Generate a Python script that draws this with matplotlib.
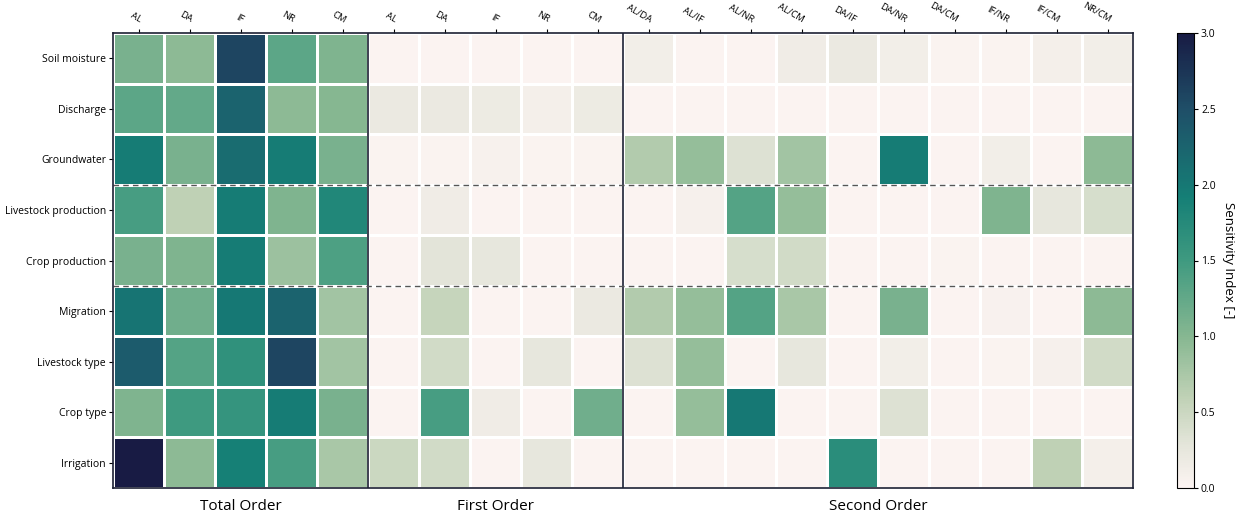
import numpy as np
import matplotlib
matplotlib.use("Agg")
import matplotlib.pyplot as plt
from matplotlib.colors import LinearSegmentedColormap

plt.rcParams['font.family'] = ['Open Sans', 'DejaVu Sans']

rows = ["Soil moisture", "Discharge", "Groundwater", "Livestock production",
        "Crop production", "Migration", "Livestock type", "Crop type", "Irrigation"]
first_labels = ["AL", "DA", "IF", "NR", "CM"]
second_labels = ["AL/DA", "AL/IF", "AL/NR", "AL/CM", "DA/IF",
                 "DA/NR", "DA/CM", "IF/NR", "IF/CM", "NR/CM"]
group_names = ["Total Order", "First Order", "Second Order"]

total_order = [
    [1.10, 0.95, 2.60, 1.30, 1.05],
    [1.30, 1.25, 2.25, 0.95, 1.00],
    [1.95, 1.10, 2.15, 1.95, 1.10],
    [1.45, 0.60, 1.95, 1.05, 1.80],
    [1.10, 1.05, 1.95, 0.85, 1.40],
    [2.05, 1.15, 2.00, 2.25, 0.80],
    [2.35, 1.35, 1.65, 2.60, 0.80],
    [1.05, 1.50, 1.60, 1.95, 1.10],
    [3.00, 0.95, 1.90, 1.45, 0.75],
]
first_order = [
    [0.02, 0.02, 0.02, 0.02, 0.02],
    [0.20, 0.20, 0.18, 0.10, 0.18],
    [0.03, 0.03, 0.06, 0.03, 0.03],
    [0.02, 0.15, 0.02, 0.02, 0.02],
    [0.02, 0.30, 0.25, 0.02, 0.02],
    [0.02, 0.55, 0.02, 0.02, 0.20],
    [0.02, 0.45, 0.02, 0.25, 0.02],
    [0.02, 1.45, 0.15, 0.02, 1.15],
    [0.50, 0.45, 0.02, 0.25, 0.02],
]
second_order = [
    [0.12, 0.02, 0.02, 0.15, 0.20, 0.12, 0.03, 0.03, 0.10, 0.12],
    [0.02, 0.02, 0.02, 0.02, 0.02, 0.02, 0.02, 0.02, 0.02, 0.02],
    [0.70, 0.90, 0.35, 0.80, 0.02, 1.95, 0.02, 0.12, 0.02, 0.95],
    [0.02, 0.08, 1.35, 0.90, 0.02, 0.02, 0.02, 1.05, 0.25, 0.40],
    [0.02, 0.02, 0.40, 0.45, 0.02, 0.02, 0.03, 0.02, 0.02, 0.02],
    [0.70, 0.90, 1.35, 0.75, 0.02, 1.10, 0.02, 0.05, 0.02, 0.95],
    [0.35, 0.90, 0.02, 0.25, 0.02, 0.12, 0.02, 0.03, 0.08, 0.45],
    [0.02, 0.90, 2.00, 0.02, 0.02, 0.35, 0.02, 0.02, 0.02, 0.02],
    [0.02, 0.02, 0.02, 0.02, 1.70, 0.02, 0.02, 0.02, 0.60, 0.10],
]

data = np.hstack([np.array(total_order), np.array(first_order), np.array(second_order)])
col_labels = first_labels + first_labels + second_labels

cmap = LinearSegmentedColormap.from_list("sens", [
    (0.000, "#fcf4f2"),
    (0.100, "#e2e4d8"),
    (0.200, "#bfd1b5"),
    (0.333, "#86b791"),
    (0.500, "#3f9a80"),
    (0.640, "#157f76"),
    (0.833, "#1f4f68"),
    (1.000, "#181b44"),
])

fig = plt.figure(figsize=(12.48, 5.18), dpi=100)
ax = fig.add_axes([113/1248, 1-488/518, (1133-113)/1248, (488-33)/518])
cax = fig.add_axes([1177/1248, 1-488/518, 17/1248, (488-33)/518])

nr, nc = data.shape
mesh = ax.pcolormesh(np.arange(nc+1), np.arange(nr+1), data, cmap=cmap, vmin=0, vmax=3,
                     edgecolors="white", linewidth=2)
ax.set_xlim(0, nc)
ax.set_ylim(nr, 0)

ax.set_yticks(np.arange(nr) + 0.5)
ax.set_yticklabels(rows, fontsize=7.5)
ax.xaxis.tick_top()
ax.set_xticks(np.arange(nc) + 0.5)
ax.set_xticklabels(col_labels, fontsize=6.8, rotation=-30, ha="right", va="bottom",
                   rotation_mode="anchor")
ax.tick_params(axis="both", length=3, width=0.8, pad=2)
ax.tick_params(axis="x", pad=3)

for s in ax.spines.values():
    s.set_color("#1c2033")
    s.set_linewidth(1.2)

n1 = len(first_labels)
for xv in [n1, 2 * n1]:
    ax.axvline(xv, color="#1c2033", linewidth=1.2)
for yv in [3, 5]:
    ax.axhline(yv, color="#555555", linewidth=1.0, linestyle=(0, (4, 3)))

centers = [n1 / 2, 1.5 * n1, 2 * n1 + len(second_labels) / 2]
for c, name in zip(centers, group_names):
    ax.text(c, nr + 0.22, name, ha="center", va="top", fontsize=11)

cb = fig.colorbar(mesh, cax=cax, ticks=[0, 0.5, 1.0, 1.5, 2.0, 2.5, 3.0])
cb.ax.tick_params(labelsize=7.5, length=3, pad=2)
cb.outline.set_linewidth(0.8)
cb.set_label("Sensitivity Index [-]", rotation=270, labelpad=14, fontsize=9.5)

fig.savefig("out.png", dpi=100)
